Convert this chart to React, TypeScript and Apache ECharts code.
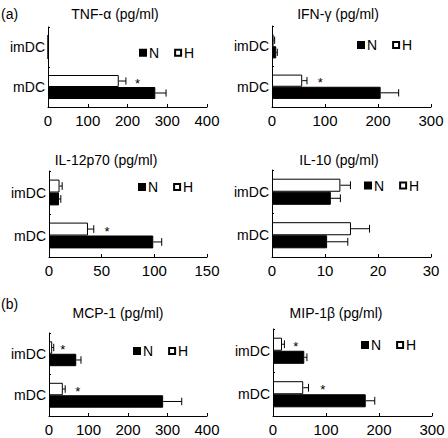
import React, { useEffect, useRef } from "react";
import * as echarts from "echarts";

// categories listed bottom-to-top (ECharts category y axis starts at the bottom)
const CATEGORIES = ["mDC", "imDC"];
const SERIES_NAMES = ["N", "H"];

const TITLES = [
  "TNF-α (pg/ml)",
  "IFN-γ (pg/ml)",
  "IL-12p70 (pg/ml)",
  "IL-10 (pg/ml)",
  "MCP-1 (pg/ml)",
  "MIP-1β (pg/ml)",
];
const AXIS_MAX = [400, 300, 150, 30, 400, 300];
const AXIS_STEP = [100, 100, 50, 10, 100, 100];

// values per panel: [mDC, imDC]
const N_MEAN = [[270, 0], [205, 8], [99, 9.5], [10.4, 11.1], [289, 69], [175, 59]];
const N_ERR = [[27, 0], [34, 2], [8, 1.7], [3.9, 1.8], [47, 12], [17, 5]];
const H_MEAN = [[178, 0], [57, 3], [37, 10], [14.9, 12.9], [35, 8], [57, 17]];
const H_ERR = [[18, 0], [9, 2], [5.5, 2.5], [3.5, 1.9], [6, 4], [10, 4.5]];
// significance asterisks (x position in data units, drawn on the H row), [mDC, imDC]; -1 = none
const STAR_X = [[225, -1], [91, -1], [55, -1], [-1, -1], [73, 35], [94, 43]];

const PANEL_LABELS = ["(a)", "(b)"];

// layout
const GRIDS = [
  { left: 48, top: 27, width: 159, height: 80 },
  { left: 272, top: 26, width: 159, height: 81 },
  { left: 49, top: 171, width: 158, height: 86 },
  { left: 272, top: 170, width: 159, height: 87 },
  { left: 49, top: 333, width: 158, height: 83 },
  { left: 273, top: 329, width: 159, height: 87 },
];
const LEGEND_POS = [
  [139, 53.7],
  [357, 46],
  [138, 188],
  [364, 186.5],
  [133, 352],
  [361, 346],
];
const TITLE_POS = [
  [115, 14],
  [338, 14],
  [106, 160],
  [339, 160],
  [118, 313],
  [336, 313],
];
const PANEL_LABEL_POS = [
  [1, 14],
  [1, 304],
];

const FONT = "'Liberation Sans', Arial, Helvetica, sans-serif";
const BAR_FRAC = 0.15; // half of one bar's share of the band

function errRender(params: any, api: any) {
  const v = api.value(0);
  const c = api.value(1);
  const e = api.value(2);
  const row = api.value(3);
  const sx = api.value(4);
  const band = api.size([0, 1])[1];
  const off = (row === 0 ? 1 : -1) * band * BAR_FRAC;
  const p0 = api.coord([v, c]);
  const y = p0[1] + off;
  const h = band * 0.09;
  const style = { stroke: "#000", lineWidth: 1 };
  const children: any[] = [];
  if (e > 0) {
    const p1 = api.coord([v + e, c]);
    children.push({ type: "line", shape: { x1: p0[0], y1: y, x2: p1[0], y2: y }, style });
    children.push({ type: "line", shape: { x1: p1[0], y1: y - h, x2: p1[0], y2: y + h }, style });
  }
  if (sx >= 0) {
    const ps = api.coord([sx, c]);
    children.push({
      type: "text",
      x: ps[0],
      y: y + 2,
      style: {
        text: "*",
        fill: "#000",
        fontSize: 13,
        fontFamily: FONT,
        align: "center",
        verticalAlign: "middle",
      },
    });
  }
  return { type: "group", children };
}

function buildOption() {
  const grid: any[] = [];
  const xAxis: any[] = [];
  const yAxis: any[] = [];
  const series: any[] = [];
  const legend: any[] = [];
  const graphic: any[] = [];

  for (let i = 0; i < TITLES.length; i++) {
    grid.push({ ...GRIDS[i], containLabel: false });
    xAxis.push({
      type: "value",
      gridIndex: i,
      min: 0,
      max: AXIS_MAX[i],
      interval: AXIS_STEP[i],
      axisLine: { show: true, lineStyle: { color: "#000", width: 1 } },
      axisTick: { show: true, inside: true, length: 3, lineStyle: { color: "#000" } },
      splitLine: { show: false },
      axisLabel: { color: "#000", fontSize: 15, fontFamily: FONT, margin: 6 },
    });
    yAxis.push({
      type: "category",
      gridIndex: i,
      data: CATEGORIES,
      axisLine: { show: true, lineStyle: { color: "#000", width: 1 } },
      axisTick: { show: true, inside: true, length: 2, lineStyle: { color: "#000" } },
      splitLine: { show: false },
      axisLabel: { color: "#000", fontSize: 14, fontFamily: FONT, margin: 3, padding: [6, 0, 0, 0] },
    });
    // H first: for horizontal bars the first series sits on top of each group
    series.push({
      type: "bar",
      name: SERIES_NAMES[1],
      xAxisIndex: i,
      yAxisIndex: i,
      data: H_MEAN[i],
      barGap: "0%",
      barCategoryGap: "40%",
      itemStyle: { color: "#fff", borderColor: "#000", borderWidth: 1 },
      silent: true,
    });
    series.push({
      type: "bar",
      name: SERIES_NAMES[0],
      xAxisIndex: i,
      yAxisIndex: i,
      data: N_MEAN[i],
      barGap: "0%",
      barCategoryGap: "40%",
      itemStyle: { color: "#000", borderColor: "#000", borderWidth: 1 },
      silent: true,
    });
    const errData: any[] = [];
    for (let c = 0; c < CATEGORIES.length; c++) {
      errData.push([N_MEAN[i][c], c, N_ERR[i][c], 0, -1]);
      errData.push([H_MEAN[i][c], c, H_ERR[i][c], 1, STAR_X[i][c]]);
    }
    series.push({
      type: "custom",
      xAxisIndex: i,
      yAxisIndex: i,
      data: errData,
      renderItem: errRender,
      clip: false,
      silent: true,
      z: 3,
    });
    legend.push({
      data: SERIES_NAMES,
      left: LEGEND_POS[i][0],
      top: LEGEND_POS[i][1] - 8,
      padding: 0,
      icon: "rect",
      itemWidth: 6,
      itemHeight: 6,
      itemGap: 15,
      selectedMode: false,
      textStyle: { color: "#000", fontSize: 14, fontFamily: FONT, padding: [0, 0, 0, -2] },
    });
    graphic.push({
      type: "text",
      x: TITLE_POS[i][0],
      y: TITLE_POS[i][1],
      style: {
        text: TITLES[i],
        fill: "#000",
        font: `14px ${FONT}`,
        textAlign: "center",
        textVerticalAlign: "middle",
      },
    });
  }
  PANEL_LABELS.forEach((t, k) => {
    graphic.push({
      type: "text",
      x: PANEL_LABEL_POS[k][0],
      y: PANEL_LABEL_POS[k][1],
      style: {
        text: t,
        fill: "#000",
        font: `14px ${FONT}`,
        textAlign: "left",
        textVerticalAlign: "middle",
      },
    });
  });

  return {
    animation: false,
    backgroundColor: "#fff",
    grid,
    xAxis,
    yAxis,
    series,
    legend,
    graphic,
  };
}

export default function App() {
  const ref = useRef<HTMLDivElement>(null);
  useEffect(() => {
    if (!ref.current) return;
    const chart = echarts.init(ref.current, undefined, { renderer: "svg" });
    chart.setOption(buildOption() as any);
    return () => chart.dispose();
  }, []);
  return (
    <div
      ref={ref}
      style={{ position: "absolute", left: 0, top: 0, width: 448, height: 438, background: "#fff" }}
    />
  );
}
